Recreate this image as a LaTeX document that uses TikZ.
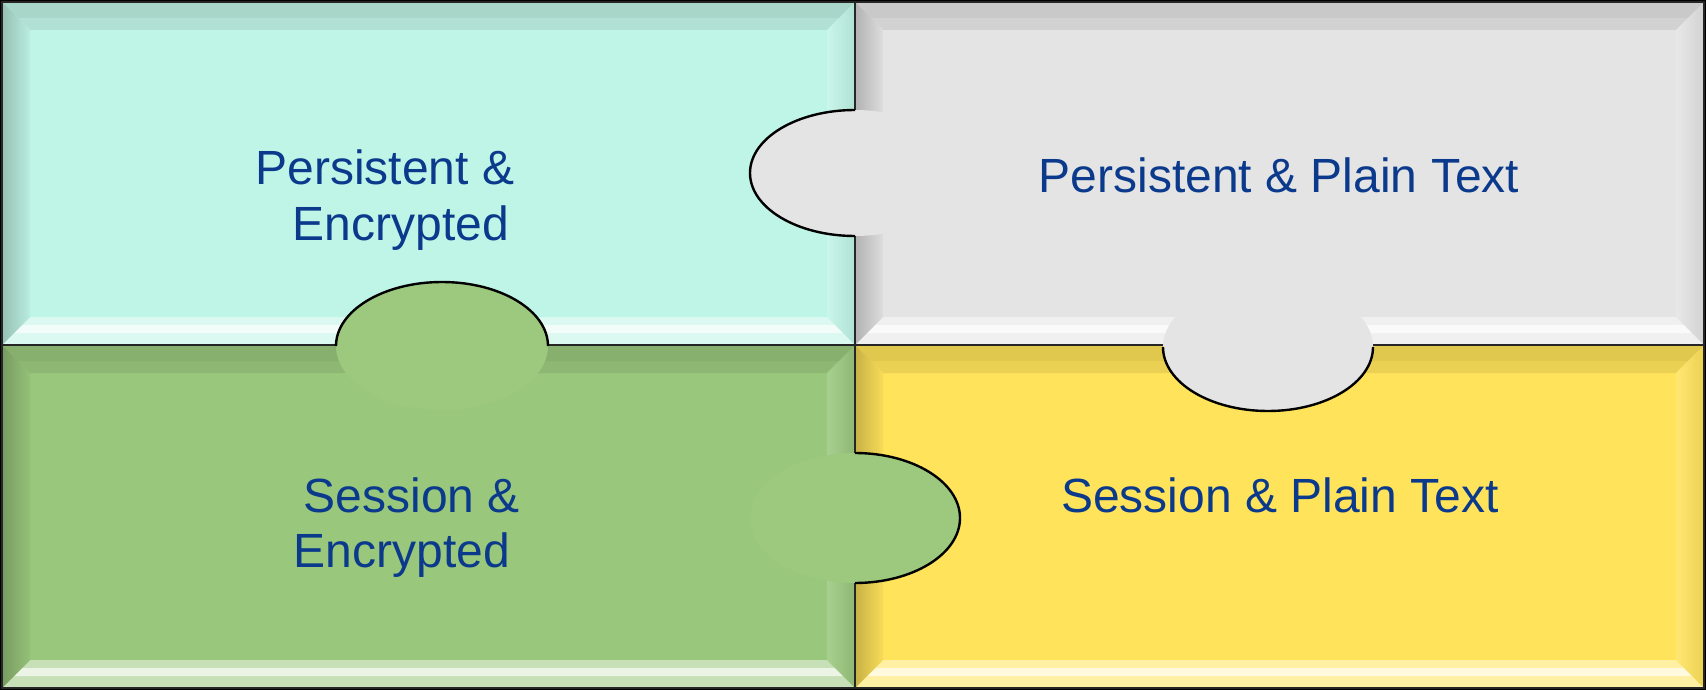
\documentclass[tikz,border=0pt]{standalone}
\usepackage{fontspec}
\setmainfont{Liberation Sans}
\definecolor{tealc}{HTML}{BFF5E6}
\definecolor{grayc}{HTML}{E4E4E4}
\definecolor{greenc}{HTML}{99C77C}
\definecolor{yellowc}{HTML}{FFE35A}
\definecolor{greentab}{HTML}{9CC97E}
\definecolor{txtblue}{HTML}{0B3A8C}
% #1 x0, #2 y0, #3 x1, #4 y1, #5 colour
\newcommand\bpanel[5]{%
  \fill[#5] (#1,#2) rectangle (#3,#4);
  % top strip
  \fill[#5!92!black] (#1,#2) -- (#3,#2) -- (#3-28,#2+28) -- (#1+28,#2+28) -- cycle;
  \fill[#5!88!black] (#1,#2) -- (#3,#2) -- (#3-16,#2+16) -- (#1+16,#2+16) -- cycle;
  % bottom strip
  \fill[#5!55!white] (#1,#4) -- (#3,#4) -- (#3-28,#4-28) -- (#1+28,#4-28) -- cycle;
  \fill[#5!20!white] (#1+12,#4-12) -- (#3-12,#4-12) -- (#3-20,#4-20) -- (#1+20,#4-20) -- cycle;
  % left strip
  \shade[left color=#5!78!black, right color=#5!97!black] (#1,#2) -- (#1+28,#2+28) -- (#1+28,#4-28) -- (#1,#4) -- cycle;
  % right strip
  \shade[left color=#5!85!white, right color=#5!92!black] (#3,#2) -- (#3-28,#2+28) -- (#3-28,#4-28) -- (#3,#4) -- cycle;
  \draw[black!85, line width=1.5pt] (#1,#2) rectangle (#3,#4);
}
\tikzset{
  lbl/.style={text=txtblue, font=\fontsize{48}{56}\selectfont, inner sep=0pt, anchor=base},
  tabline/.style={black, line width=2.4pt}
}
\begin{document}
\begin{tikzpicture}[x=1pt,y=-1pt]
\useasboundingbox (0,0) rectangle (1706,690);
\fill[black] (0,0) rectangle (1706,690);
\bpanel{2}{2}{855}{345}{tealc}
\bpanel{855}{2}{1704}{345}{grayc}
\bpanel{2}{345}{855}{688}{greenc}
\bpanel{855}{345}{1704}{688}{yellowc}
% tabs
\fill[grayc] (855,173) ellipse [x radius=105, y radius=63];
\draw[tabline] (855,236) arc[start angle=90, end angle=270, x radius=105, y radius=63];
\fill[greentab] (442,346) ellipse [x radius=106, y radius=64];
\draw[tabline] (336,346) arc[start angle=180, end angle=360, x radius=106, y radius=64];
\fill[grayc] (1268,347) ellipse [x radius=105, y radius=64];
\draw[tabline] (1373,347) arc[start angle=0, end angle=180, x radius=105, y radius=64];
\fill[greentab] (855,518) ellipse [x radius=105, y radius=65];
\draw[tabline] (855,453) arc[start angle=-90, end angle=90, x radius=105, y radius=65];
% labels
\node[lbl] (pe1) at (385,185) {Persistent \&};
\node[lbl] (pe2) at (401,240) {Encrypted};
\node[lbl] (pp) at (1279,193) {Persistent \& Plain Text};
\node[lbl] (se1) at (412,512) {Session \&};
\node[lbl] (se2) at (402,567) {Encrypted};
\node[lbl] (sp) at (1280,512) {Session \& Plain Text};
\end{tikzpicture}
\end{document}
